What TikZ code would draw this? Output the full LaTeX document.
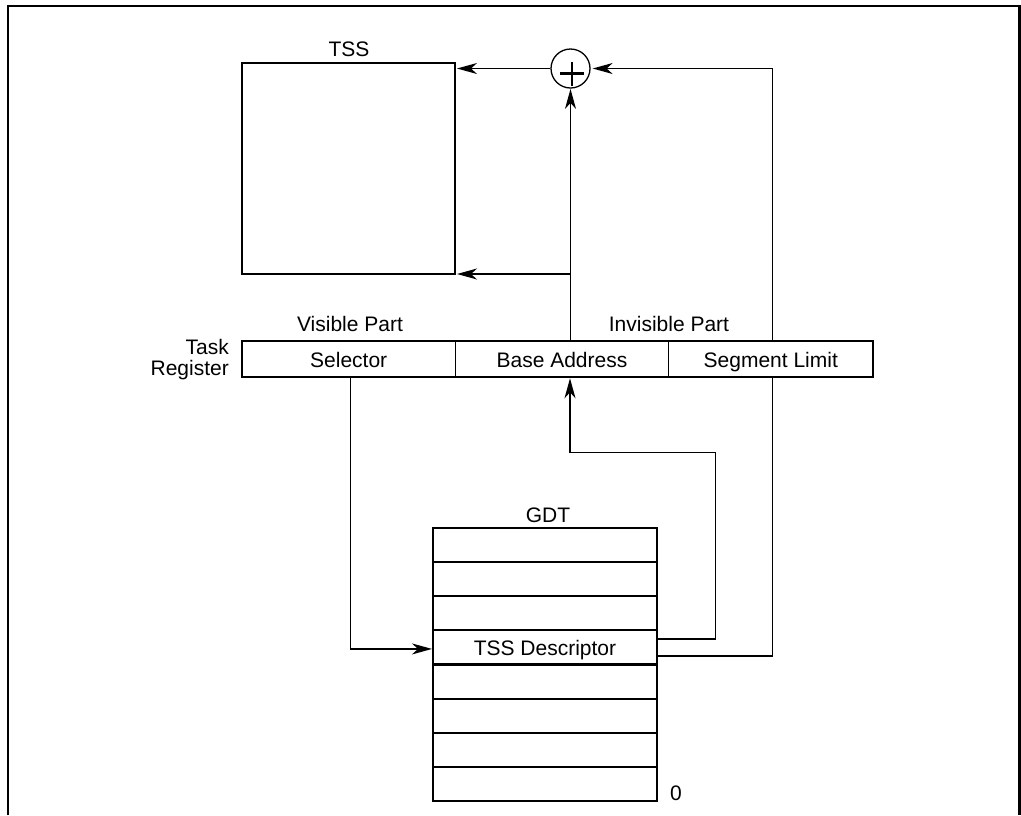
\documentclass[tikz,border=0pt]{standalone}
\usepackage{fontspec}
\setmainfont{Liberation Sans}
\usetikzlibrary{arrows.meta,calc}
\begin{document}
\begin{tikzpicture}[x=1pt,y=-1pt,
  boxthick/.style={draw, line width=2.2pt, inner sep=0pt, outer sep=0pt, anchor=north west},
  cell/.style={inner sep=0pt, outer sep=0pt, anchor=north west, text height=17pt, text depth=0pt, font=\fontsize{21}{25}\selectfont},
  conn/.style={line width=1.3pt},
  arr/.style={conn, -{Stealth[length=20pt,width=11pt,inset=6pt]}},
  lbl/.style={font=\fontsize{21}{25}\selectfont, inner sep=0pt, anchor=base},
]
\useasboundingbox (0,0) rectangle (1021,815);
% frame
\draw[line width=2.4pt] (7.8,815) -- (7.8,5.7) -- (1019.4,5.7) -- (1019.4,815);

% TSS box
\node[boxthick, minimum width=213pt, minimum height=211pt] (tss) at (242,63) {};
\node[lbl] (tsslbl) at (349,56.7) {TSS};

% adder
\node[draw, circle, line width=1.3pt, minimum size=39pt, inner sep=0pt] (plus) at (570.5,68.5) {};
\draw[line width=2.8pt] (560,73.3) -- (584,73.3) (572,61.7) -- (572,86.2);

% task register
\node[cell, minimum width=214pt, minimum height=36.3pt] (sel) at (241.7,341) {Selector};
\node[cell, minimum width=212.6pt, minimum height=36.3pt] (base) at (455.7,341) {Base Address};
\node[cell, minimum width=205pt, minimum height=36.3pt] (seg) at (668.3,341) {Segment Limit};
\draw[line width=2.2pt] (sel.north west) rectangle (seg.south east);
\draw[conn] (sel.north east) -- (sel.south east) (base.north east) -- (base.south east);
\node[lbl] (vis) at (350,331.7) {Visible Part};
\node[lbl] (invis) at (669,331.7) {Invisible Part};
\node[lbl, anchor=base east] (task1) at (229,354.4) {Task};
\node[lbl, anchor=base east] (task2) at (229,375.2) {Register};

% GDT
\foreach \i in {0,...,7} {
  \node[boxthick, minimum width=224pt, minimum height=34.125pt] (g\i) at (433,{528+34.125*\i}) {};
}
\node[lbl] (gdtlbl) at (548,522.7) {GDT};
\node[lbl] (desc) at ($(g3.center)+(0,7.8)$) {TSS Descriptor};
\node[lbl] (zero) at (676,800.5) {0};

% connectors
\coordinate (rx) at (772.7,0);
\coordinate (bx) at (715.7,452.3);
\draw[arr, shorten >=2pt] (plus.west) -- (plus.west -| tss.east);
\draw[arr, shorten >=0.3pt] (base.north -| plus.south) -- (plus.south);
\draw[arr, shorten >=2pt] (plus.south |- tss.south east) -- (tss.south east);
\draw[arr, shorten >=2pt] (seg.north -| rx) -- (plus.east -| rx) -- (plus.east);
\draw[conn] ($(g3.east)+(0,8.6)$) -| (seg.south -| rx);
\draw[arr, shorten >=1pt] ($(g3.east)+(0,-8.4)$) -| (bx) -| ($(base.south -| plus.south)+(-0.5,0)$);
\draw[arr, shorten >=1pt] ($(sel.south)+(2,0)$) |- ($(g3.west)+(0,1.5)$);
\end{tikzpicture}
\end{document}
